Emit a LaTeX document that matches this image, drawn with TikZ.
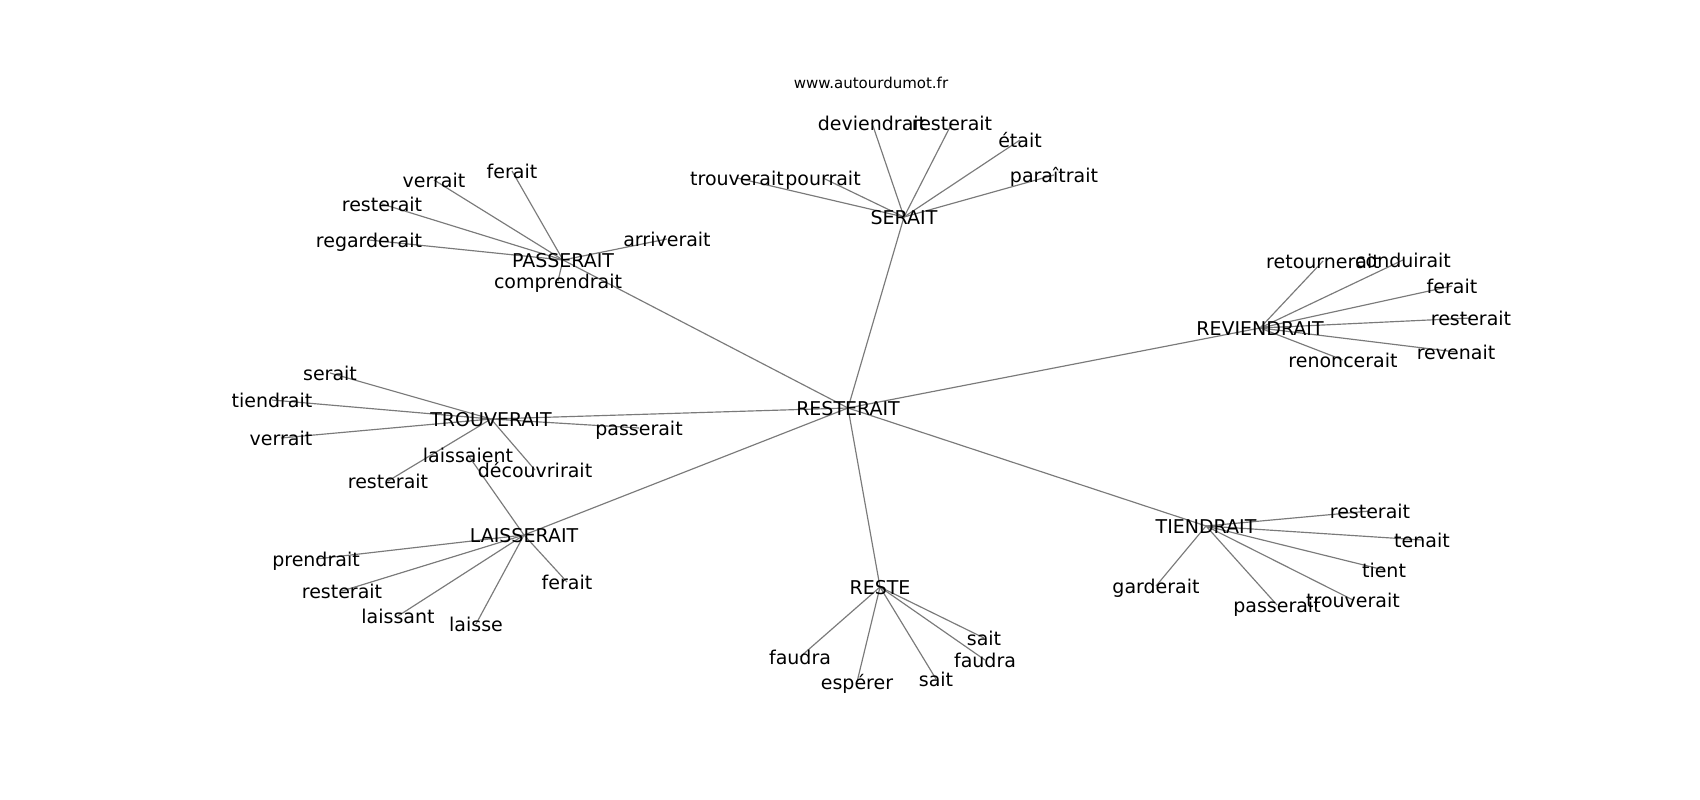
\documentclass[tikz,border=0pt]{standalone}
\usepackage{fontspec}
\setmainfont{DejaVu Sans}
\pgfdeclarelayer{background}
\pgfsetlayers{background,main}
\begin{document}
\begin{tikzpicture}[x=0.6pt,y=-0.6pt,
  word/.style={inner sep=0pt, text height=0.93em, text depth=0pt, font=\fontsize{11.4}{13}\selectfont},
  sitemark/.style={inner sep=0pt, text height=0.73em, text depth=0pt, font=\fontsize{9}{11}\selectfont},
  link/.style={draw=black!52, line width=0.7pt}]
\useasboundingbox (0,0) rectangle (1700,800);
\node[sitemark] (wm) at (871,82) {www.autourdumot.fr};
% hubs
\node[word] (R) at (848,408) {RESTERAIT};
\node[word] (S) at (904,217) {SERAIT};
\node[word] (P) at (563,260) {PASSERAIT};
\node[word] (V) at (1260,328) {REVIENDRAIT};
\node[word] (T) at (491,419) {TROUVERAIT};
\node[word] (L) at (524,535) {LAISSERAIT};
\node[word] (E) at (880,587) {RESTE};
\node[word] (D) at (1206,526) {TIENDRAIT};
% PASSERAIT
\node[word] (p1) at (512,171) {ferait};
\node[word] (p2) at (434,180) {verrait};
\node[word] (p3) at (382,204) {resterait};
\node[word] (p4) at (369,240) {regarderait};
\node[word] (p5) at (667,239) {arriverait};
\node[word] (p6) at (558,281) {comprendrait};
% SERAIT
\node[word] (s1) at (872,123) {deviendrait};
\node[word] (s2) at (952,123) {resterait};
\node[word] (s3) at (1020,140) {était};
\node[word] (s4) at (1054,175) {paraîtrait};
\node[word] (s5) at (737,178) {trouverait};
\node[word] (s6) at (823,178) {pourrait};
% REVIENDRAIT
\node[word] (v1) at (1323,261) {retournerait};
\node[word] (v2) at (1403,260) {conduirait};
\node[word] (v3) at (1452,286) {ferait};
\node[word] (v4) at (1471,318) {resterait};
\node[word] (v5) at (1456,352) {revenait};
\node[word] (v6) at (1343,360) {renoncerait};
% TROUVERAIT
\node[word] (t1) at (330,373) {serait};
\node[word] (t2) at (272,400) {tiendrait};
\node[word] (t3) at (281,438) {verrait};
\node[word] (t4) at (639,428) {passerait};
\node[word] (t5) at (535,470) {découvrirait};
\node[word] (t6) at (388,481) {resterait};
% LAISSERAIT
\node[word] (l1) at (468,455) {laissaient};
\node[word] (l2) at (316,559) {prendrait};
\node[word] (l3) at (342,591) {resterait};
\node[word] (l4) at (398,616) {laissant};
\node[word] (l5) at (476,624) {laisse};
\node[word] (l6) at (567,582) {ferait};
% RESTE
\node[word] (e1) at (800,657) {faudra};
\node[word] (e2) at (857,682) {espérer};
\node[word] (e3) at (936,679) {sait};
\node[word] (e4) at (984,638) {sait};
\node[word] (e5) at (985,660) {faudra};
% TIENDRAIT
\node[word] (d1) at (1370,511) {resterait};
\node[word] (d2) at (1422,540) {tenait};
\node[word] (d3) at (1384,570) {tient};
\node[word] (d4) at (1353,600) {trouverait};
\node[word] (d5) at (1277,605) {passerait};
\node[word] (d6) at (1156,586) {garderait};
\begin{pgfonlayer}{background}
\foreach \h in {S,P,V,T,L,E,D} \draw[link] (R.center) -- (\h.center);
\foreach \c in {p1,p2,p3,p4,p5,p6} \draw[link] (P.center) -- (\c.center);
\foreach \c in {s1,s2,s3,s4,s5,s6} \draw[link] (S.center) -- (\c.center);
\foreach \c in {v1,v2,v3,v4,v5,v6} \draw[link] (V.center) -- (\c.center);
\foreach \c in {t1,t2,t3,t4,t5,t6} \draw[link] (T.center) -- (\c.center);
\foreach \c in {l1,l2,l3,l4,l5,l6} \draw[link] (L.center) -- (\c.center);
\foreach \c in {e1,e2,e3,e4,e5} \draw[link] (E.center) -- (\c.center);
\foreach \c in {d1,d2,d3,d4,d5,d6} \draw[link] (D.center) -- (\c.center);
\end{pgfonlayer}
\end{tikzpicture}
\end{document}
